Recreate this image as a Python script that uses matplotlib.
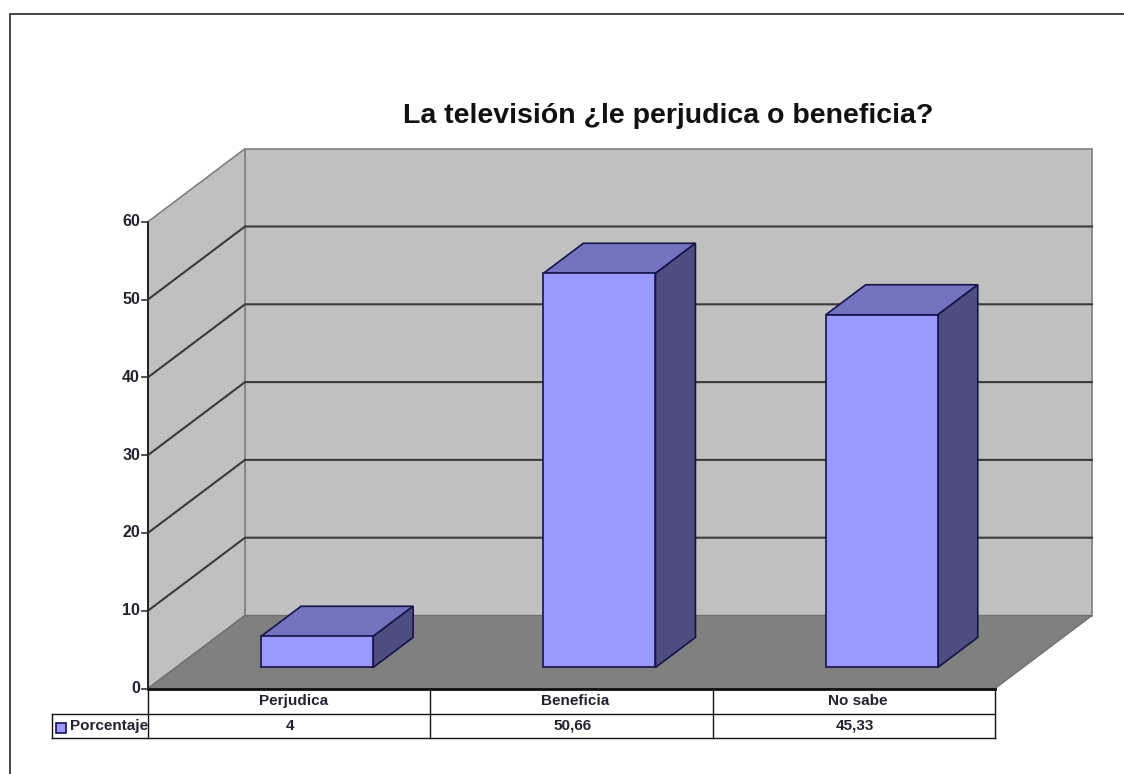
import matplotlib
matplotlib.use("Agg")
import matplotlib.pyplot as plt
from matplotlib.patches import Polygon, Rectangle

plt.rcParams['font.family'] = ['Liberation Sans', 'DejaVu Sans']

# Data
title = "La televisión ¿le perjudica o beneficia?"
categories = ["Perjudica", "Beneficia", "No sabe"]
value_labels = ["4", "50,66", "45,33"]
values = [4, 50.66, 45.33]
y_ticks = [0, 10, 20, 30, 40, 50, 60]
series_name = "Porcentaje"

W, H = 1124, 774
PX_X = 282.33   # pixels per category
PX_Y = 7.78     # pixels per value unit
X0, Y0 = 148, 688.5   # pixel position of the front axes origin
DX, DY = 97 / PX_X, 73 / PX_Y   # depth offset of the back wall
BAR_W = 0.397
Z_FRONT, Z_BACK = 0.288, 0.70
EDGE = "#14144a"
TXT = "#222230"

fig = plt.figure(figsize=(W / 100, H / 100), dpi=100)
ax = fig.add_axes([0, 0, 1, 1])
ax.set_xlim(-X0 / PX_X, (W - X0) / PX_X)
ax.set_ylim(-(H - Y0) / PX_Y, Y0 / PX_Y)
ax.axis("off")


def depth(x, y, z):
    return (x + DX * z, y + DY * z)


def poly(pts, face, edge, lw=1.0, zorder=2):
    ax.add_patch(Polygon(pts, closed=True, facecolor=face, edgecolor=edge,
                         linewidth=lw, joinstyle="miter", zorder=zorder))


n = len(categories)
ymax = y_ticks[-1]

# Walls and floor
poly([depth(0, 0, 1), depth(n, 0, 1), depth(n, ymax, 1), depth(0, ymax, 1)],
     "#c0c0c0", "#808080", 1.2, 1)
poly([depth(0, 0, 0), depth(0, 0, 1), depth(0, ymax, 1), depth(0, ymax, 0)],
     "#c0c0c0", "#808080", 1.2, 1)
poly([depth(0, 0, 0), depth(n, 0, 0), depth(n, 0, 1), depth(0, 0, 1)],
     "#808080", "#707070", 1.0, 1)

# Gridlines
for t in y_ticks[1:-1]:
    xs, ys = zip(depth(0, t, 0), depth(0, t, 1), depth(n, t, 1))
    ax.plot(xs, ys, color="#3a3a3a", lw=1.5, zorder=1.5, solid_joinstyle="miter")

# Bars
for i, v in enumerate(values):
    x1 = i + 0.5 - BAR_W / 2
    x2 = i + 0.5 + BAR_W / 2
    # top
    poly([depth(x1, v, Z_FRONT), depth(x2, v, Z_FRONT),
          depth(x2, v, Z_BACK), depth(x1, v, Z_BACK)], "#7373bf", EDGE, 1.2, 3)
    # side
    poly([depth(x2, 0, Z_FRONT), depth(x2, 0, Z_BACK),
          depth(x2, v, Z_BACK), depth(x2, v, Z_FRONT)], "#4d4d80", EDGE, 1.2, 3)
    # front
    poly([depth(x1, 0, Z_FRONT), depth(x2, 0, Z_FRONT),
          depth(x2, v, Z_FRONT), depth(x1, v, Z_FRONT)], "#9999ff", EDGE, 1.2, 4)

# Value axis
ax.plot([0, 0], [0, ymax], color="#222222", lw=1.4, zorder=5)
ax.plot([0, n], [0, 0], color="#111111", lw=2.0, zorder=5)
for t in y_ticks:
    ax.plot([-6 / PX_X, 0], [t, t], color="#333333", lw=1.2, zorder=5)
    ax.text(-8 / PX_X, t, str(t), ha="right", va="center", fontsize=11.5,
            fontweight="bold", color=TXT)

# Data table below the plot
row1 = -25.5 / PX_Y
row2 = -49.5 / PX_Y
left = -96 / PX_X
ax.plot([left, n], [row1, row1], color="#111111", lw=1.0, zorder=5)
ax.plot([left, n], [row2, row2], color="#111111", lw=1.0, zorder=5)
ax.plot([left, left], [row1, row2], color="#111111", lw=1.0, zorder=5)
for i in range(n + 1):
    ax.plot([i, i], [0, row2], color="#111111", lw=1.0, zorder=5)
for i in range(n):
    ax.text(i + 0.5 + 4 / PX_X, row1 / 2, categories[i], ha="center", va="center",
            fontsize=11, fontweight="bold", color=TXT)
    ax.text(i + 0.5 + 1 / PX_X, (row1 + row2) / 2, value_labels[i], ha="center", va="center",
            fontsize=11, fontweight="bold", color=TXT)

# Legend key inside the table
ax.add_patch(Rectangle((left + 3.5 / PX_X, -44.5 / PX_Y), 10 / PX_X, 10 / PX_Y,
                       facecolor="#9999ff", edgecolor=EDGE, lw=1.2, zorder=6))
ax.text(left + 18 / PX_X, (row1 + row2) / 2, series_name, ha="left", va="center",
        fontsize=11, fontweight="bold", color=TXT, zorder=6)

# Title
ax.text((668 - X0) / PX_X, (Y0 - 116) / PX_Y, title, ha="center", va="center",
        fontsize=20.5, fontweight="bold", color="#111111")

# Outer frame, left and top only
ax.plot([(10 - X0) / PX_X, (10 - X0) / PX_X, (W - X0) / PX_X],
        [-(H - Y0) / PX_Y, (Y0 - 14) / PX_Y, (Y0 - 14) / PX_Y],
        color="#444444", lw=1.4, solid_joinstyle="miter")

fig.savefig("out.png", dpi=100, facecolor="white")
